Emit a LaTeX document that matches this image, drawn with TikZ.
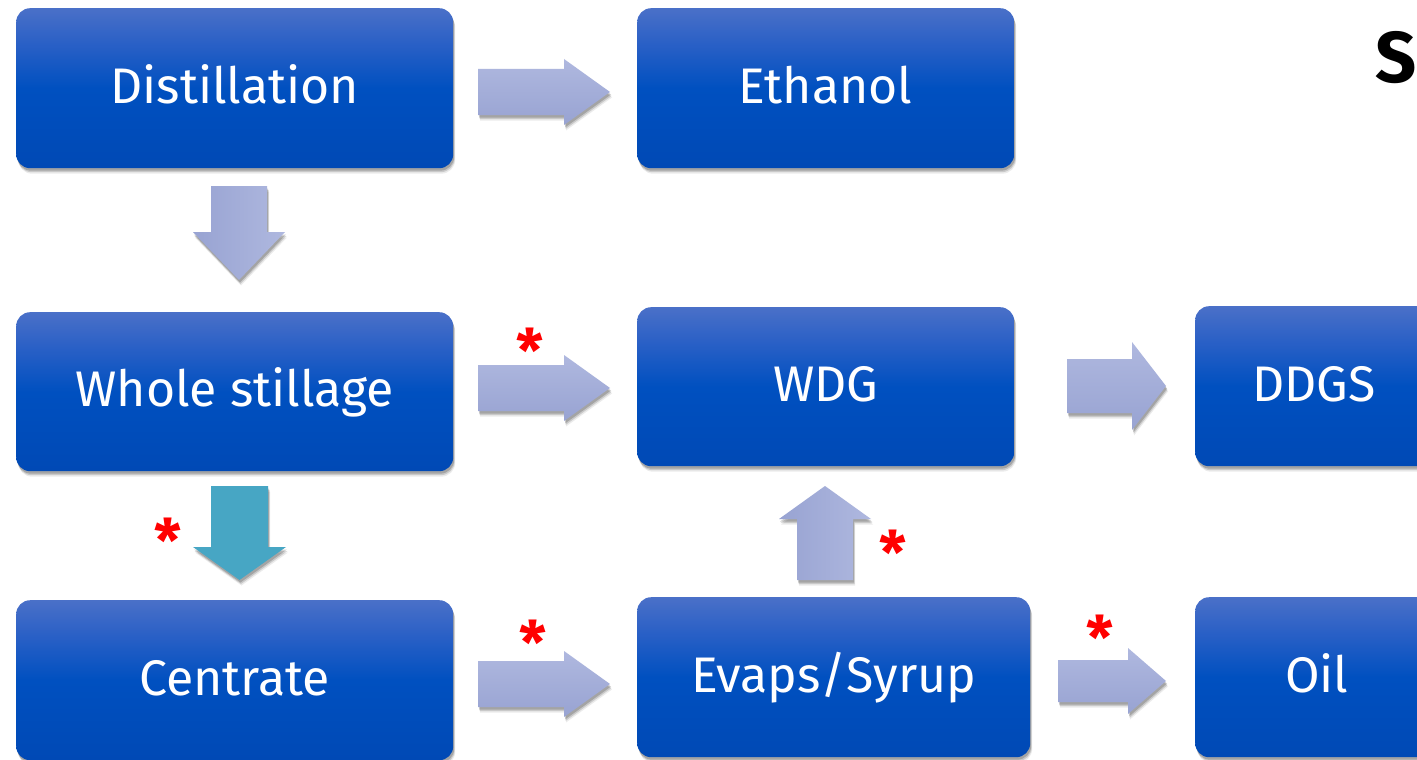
\documentclass[tikz,border=0pt]{standalone}
\usepackage{fontspec}
\setmainfont{Fira Sans}
\usetikzlibrary{shadows}
\definecolor{btop}{HTML}{4A70C8}
\definecolor{bup}{HTML}{2A60C6}
\definecolor{bmid}{HTML}{0050C0}
\definecolor{bbot}{HTML}{0049B5}
\definecolor{alight}{HTML}{AFB8DF}
\definecolor{adark}{HTML}{98A3D2}
\definecolor{teal}{HTML}{47A6C4}
\definecolor{starred}{HTML}{FF0000}
\pgfdeclareverticalshading{boxshade}{100bp}{color(0bp)=(bbot); color(25bp)=(bbot); color(50bp)=(bmid); color(64bp)=(bup); color(75bp)=(btop); color(100bp)=(btop)}
\tikzset{
  softshadow/.style={
    drop shadow={shadow xshift=1pt, shadow yshift=-2.5pt, opacity=0.18, fill=black},
    drop shadow={shadow xshift=1.5pt, shadow yshift=-4pt, opacity=0.14, fill=black},
    drop shadow={shadow xshift=2pt, shadow yshift=-5.5pt, opacity=0.08, fill=black}},
  box/.style={rounded corners=14pt, shading=boxshade, softshadow,
    draw=none, text=white, inner sep=0pt, anchor=north west,
    text height=35pt, text depth=5pt,
    font=\fontsize{50}{60}\selectfont},
  harr/.style={top color=alight, bottom color=adark, draw=none, softshadow},
  varr/.style={left color=adark, right color=alight, draw=none, softshadow},
  tarr/.style={fill=teal, draw=none, softshadow},
  mark star/.style={text=starred, font=\fontsize{60}{60}\selectfont\bfseries, inner sep=0pt, anchor=base}
}
% right arrow: x1, x2, yc, shaft half, head half, head start
\newcommand{\rblock}[7][harr]{%
  \path[#1] (#2,#4-#5) -- (#7,#4-#5) -- (#7,#4-#6) -- (#3,#4) -- (#7,#4+#6) -- (#7,#4+#5) -- (#2,#4+#5) -- cycle;}
% vertical arrow: xc, y1 (tail), y2 (tip), shaft half, head half, head start
\newcommand{\vblock}[7][varr]{%
  \path[#1] (#2-#5,#3) -- (#2-#5,#7) -- (#2-#6,#7) -- (#2,#4) -- (#2+#6,#7) -- (#2+#5,#7) -- (#2+#5,#3) -- cycle;}
\begin{document}
\begin{tikzpicture}[x=1pt,y=-1pt]
\useasboundingbox (0,0) rectangle (1417,760);
\clip (0,0) rectangle (1417,760);
\fill[white] (0,0) rectangle (1417,760);

\node[box, minimum width=437pt, minimum height=160pt] (dist) at (16,8) {Distillation};
\node[box, minimum width=377pt, minimum height=160pt] (eth) at (637,8) {Ethanol};
\node[box, minimum width=437pt, minimum height=159pt] (whole) at (16,312) {Whole stillage};
\node[box, minimum width=377pt, minimum height=159pt] (wdg) at (637,307) {WDG};
\node[box, minimum width=240pt, minimum height=160pt, text width=240pt, align=left] (ddgs) at (1195,306) {\hspace*{57pt}DDGS};
\node[box, minimum width=437pt, minimum height=160pt] (cent) at (16,600) {Centrate};
\node[box, minimum width=393pt, minimum height=160pt] (evap) at (637,597) {Evaps/Syrup};
\node[box, minimum width=240pt, minimum height=160pt, text width=240pt, align=left] (oil) at (1195,597) {\hspace*{90pt}Oil};

\node[inner sep=0pt, anchor=base west, font=\fontsize{72}{72}\selectfont\bfseries] (title) at (1375,82) {S};

% arrows
\rblock{478}{610}{92}{23}{33}{564}
\rblock{478}{610}{388}{23}{33}{564}
\rblock{478}{610}{684}{23}{33}{564}
\rblock{1067}{1166}{386}{27}{44}{1132}
\rblock{1058}{1166}{681}{21}{33}{1128}
\vblock{239}{186}{280}{28}{46}{232}
\vblock[tarr]{239.5}{486}{580}{28.5}{46.5}{547}
\vblock{825}{580}{486}{28}{46}{519}

% stars
\node[mark star] (s1) at (530,372) {*};
\node[mark star] (s2) at (168,562) {*};
\node[mark star] (s3) at (893,574) {*};
\node[mark star] (s4) at (533,664) {*};
\node[mark star] (s5) at (1100,659) {*};
\end{tikzpicture}
\end{document}
